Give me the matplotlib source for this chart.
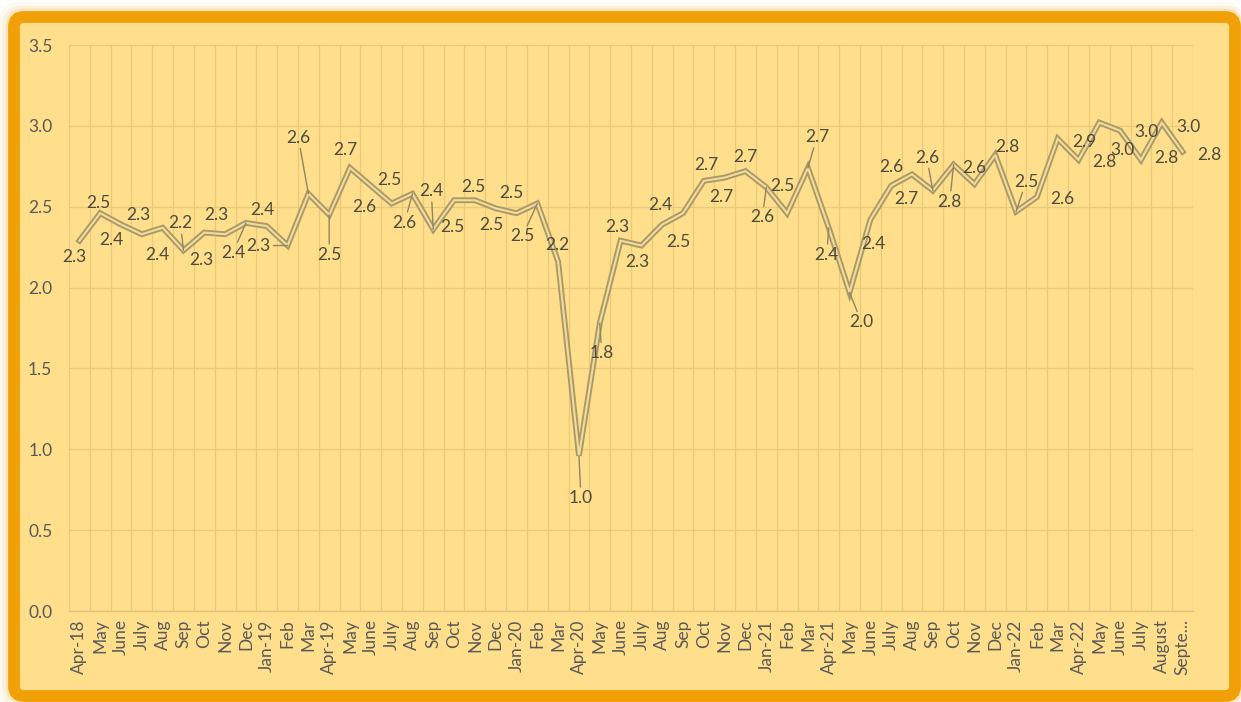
import matplotlib
matplotlib.use("Agg")
import matplotlib.pyplot as plt
from matplotlib.patches import FancyBboxPatch

plt.rcParams['font.family'] = ['Lato', 'DejaVu Sans']

# monthly series, Apr-18 .. Sep-22
months = ["Apr-18", "May", "June", "July", "Aug", "Sep", "Oct", "Nov", "Dec",
          "Jan-19", "Feb", "Mar",
          "Apr-19", "May", "June", "July", "Aug", "Sep", "Oct", "Nov", "Dec",
          "Jan-20", "Feb", "Mar",
          "Apr-20", "May", "June", "July", "Aug", "Sep", "Oct", "Nov", "Dec",
          "Jan-21", "Feb", "Mar",
          "Apr-21", "May", "June", "July", "Aug", "Sep", "Oct", "Nov", "Dec",
          "Jan-22", "Feb", "Mar",
          "Apr-22", "May", "June", "July", "August", "Septe..."]

values = [2.29, 2.46, 2.39, 2.33, 2.37, 2.23, 2.34, 2.33, 2.40, 2.38, 2.26, 2.58,
          2.45, 2.74, 2.63, 2.52, 2.58, 2.36, 2.54, 2.54, 2.49, 2.46, 2.52, 2.16,
          0.96, 1.78, 2.29, 2.26, 2.39, 2.46, 2.66, 2.68, 2.72, 2.62, 2.46, 2.74,
          2.37, 1.97, 2.42, 2.63, 2.70, 2.60, 2.76, 2.64, 2.82, 2.47, 2.56, 2.92,
          2.79, 3.02, 2.97, 2.79, 3.02, 2.84]

# label placement (pixel offsets from the point) and which labels get a leader line
label_offsets = [(-5, -16), (-2, 10), (-10, -15), (-4, 19), (-5, -27), (-3, 27),
                 (-3, -27), (-9, 19), (-13, -30), (-4, 16), (-29, 0), (-10, 56),
                 (0, -40), (-5, 18), (-7, -21), (-2, 23), (-8, -29), (-2, 38),
                 (-2, -27), (-2, 13), (-4, -17), (-5, 20), (-15, -33), (-1, 17),
                 (2, -42), (2, -30), (-3, 14), (-4, -16), (-2, 20), (-5, -29),
                 (2, 16), (-3, -19), (0, 14), (-4, -30), (-5, 27), (9, 31),
                 (-2, -27), (12, -30), (3, -24), (0, 19), (-6, -25), (-6, 33),
                 (-4, -37), (0, 16), (12, 8), (10, 30), (25, -2), (27, -3),
                 (26, -2), (23, -27), (26, -1), (25, 2), (27, -4), (27, -3)]
leaders = {5, 8, 10, 11, 12, 16, 17, 22, 24, 25, 33, 35, 36, 37, 41, 42, 45}

panel_color = "#FFDF8C"
frame_color = "#F2A007"
grid_color = "#E9C97A"
text_color = "#595959"
label_color = "#4D4A3E"

fig = plt.figure(figsize=(12.41, 7.02), dpi=100)
fig.patch.set_facecolor("white")

# soft glow around the frame
for grow, alpha in [(9, 0.05), (6, 0.09), (3, 0.15)]:
    glow = FancyBboxPatch((14 - grow, 6 - grow), 1221 + 2 * grow, 679 + 2 * grow,
                          boxstyle="round,pad=0,rounding_size=14",
                          transform=None, facecolor="none",
                          edgecolor=frame_color, linewidth=8, alpha=alpha,
                          zorder=-6)
    fig.patches.append(glow)

frame = FancyBboxPatch((14, 6), 1221, 679,
                       boxstyle="round,pad=0,rounding_size=10",
                       transform=None, facecolor=panel_color,
                       edgecolor=frame_color, linewidth=8.5, zorder=-5)
fig.patches.append(frame)

ax = fig.add_axes([69 / 1241, 91 / 702, 1124 / 1241, 566 / 702])
ax.patch.set_alpha(0)

x = list(range(len(values)))

# double-stroke line: dark outline with a light core
ax.plot(x, values, color="#A8996A", lw=4.2, solid_joinstyle="miter", zorder=3)
ax.plot(x, values, color="#F4DB97", lw=1.5, solid_joinstyle="miter", zorder=4)

for i, v in enumerate(values):
    dx, dy = label_offsets[i]
    arrow = None
    if i in leaders:
        arrow = dict(arrowstyle="-", color="#8F8666", lw=1.0, shrinkA=0, shrinkB=0)
    ax.annotate(f"{v:.1f}", xy=(i, v), xytext=(dx, dy), textcoords="offset pixels",
                ha="center", va="center", fontsize=12.5, color=label_color,
                arrowprops=arrow, zorder=5)

ax.set_xlim(-0.5, len(values) - 0.5)
ax.set_ylim(0, 3.5)
ax.set_yticks([0, 0.5, 1.0, 1.5, 2.0, 2.5, 3.0, 3.5])
ax.set_yticklabels([f"{t:.1f}" for t in ax.get_yticks()])
ax.set_xticks(x)
ax.set_xticklabels(months, rotation=90)
ax.set_xticks([i - 0.5 for i in range(len(values) + 1)], minor=True)

ax.grid(False)
ax.grid(axis="y", which="major", color=grid_color, lw=0.9, zorder=1)
ax.grid(axis="x", which="minor", color=grid_color, lw=0.9, zorder=1)

for side in ["top", "right", "left"]:
    ax.spines[side].set_visible(False)
ax.spines["bottom"].set_color("#E0C27A")
ax.spines["bottom"].set_linewidth(1.0)

ax.tick_params(axis="both", which="both", length=0, colors=text_color, labelsize=12.5)
ax.tick_params(axis="y", pad=12)
ax.tick_params(axis="x", pad=6)

fig.savefig("out.png", dpi=100, facecolor=fig.get_facecolor())
